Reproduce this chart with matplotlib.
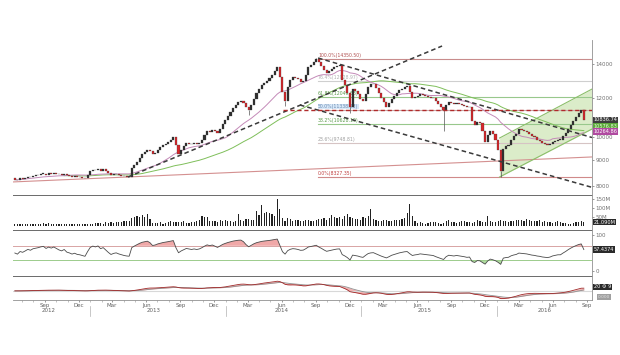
import pandas as pd
import numpy as np
import matplotlib.pyplot as plt
import matplotlib.dates as mdates
import matplotlib.transforms as mtrans

# Weekly closes, Jun 2012 - Sep 2016
closes = [
    8240, 8210, 8280, 8260, 8300, 8350, 8330, 8380, 8400, 8420,
    8450, 8470, 8430, 8480, 8460, 8500, 8470, 8440, 8420, 8460,
    8400, 8380, 8350, 8370, 8340, 8330, 8310, 8290, 8400, 8550,
    8620, 8600, 8650, 8580, 8630, 8560, 8480, 8400, 8440, 8460,
    8420, 8390, 8360, 8340, 8330, 8700, 8820, 8950, 9100, 9250,
    9350, 9440, 9380, 9260, 9320, 9450, 9550, 9650, 9720, 9800,
    9900, 10010, 9650, 9260, 9450, 9600, 9760, 9720, 9680, 9740,
    9700, 9760, 9900, 10100, 10300, 10250, 10350, 10280, 10200, 10400,
    10650, 10850, 11050, 11230, 11450, 11600, 11750, 11800, 11700, 11500,
    11340, 11600, 11950, 12250, 12480, 12700, 12850, 12950, 13100, 13300,
    13550, 13800, 13200, 12300, 11800, 12600, 13000, 13200, 13150, 13050,
    12900, 12950, 13300, 13800, 13950, 14150, 14350, 14100, 13900, 13650,
    13420, 13550, 13700, 13800, 13900, 13930, 13000, 12700, 12270, 11500,
    12480, 12350, 12200, 11950, 11800, 12200, 12600, 12750, 12800, 12550,
    12270, 12000, 11750, 11500, 11700, 11950, 12100, 12270, 12400, 12500,
    12600, 12640, 12300, 11960, 12050, 12100, 12200, 12150, 12100, 12050,
    12000, 11960, 11800, 11650, 11500, 11340, 11600, 11750, 11700, 11650,
    11700, 11650, 11600, 11550, 11480, 11500, 10800, 10600, 10750, 10700,
    10300, 9800, 10100, 10300, 10150, 9900, 9440, 8580, 9500, 9600,
    9650, 9900, 10050, 10150, 10400, 10350, 10300, 10250, 10150, 10050,
    10000, 9900, 9850, 9750, 9700, 9650, 9700, 9800, 9850, 9900,
    9900, 10050, 10200, 10400, 10600, 10800, 11000, 11200, 11340, 10836,
]

# Weekly volume in millions
volumes = [
    10, 12, 11, 9, 13, 12, 10, 14, 11, 12,
    13, 15, 14, 16, 12, 13, 11, 12, 10, 11,
    9, 10, 9, 10, 11, 12, 10, 11, 13, 12,
    14, 16, 15, 18, 14, 20, 16, 22, 18, 20,
    24, 22, 26, 30, 28, 45, 50, 55, 48, 60,
    52, 68, 38, 18, 16, 15, 20, 14, 17, 24,
    26, 22, 20, 24, 22, 26, 18, 16, 20, 22,
    28, 35, 55, 50, 48, 30, 26, 28, 22, 32,
    30, 34, 26, 28, 25, 30, 65, 35, 30, 38,
    40, 35, 36, 85, 60, 115, 70, 80, 75, 65,
    55, 150, 95, 45, 30, 42, 38, 28, 32, 35,
    28, 30, 32, 34, 30, 26, 36, 38, 40, 42,
    35, 45, 62, 48, 44, 52, 40, 55, 66, 50,
    45, 40, 38, 36, 48, 42, 55, 96, 40, 32,
    28, 30, 34, 32, 30, 28, 35, 33, 36, 38,
    45, 75, 120, 55, 30, 18, 20, 16, 14, 18,
    20, 22, 24, 18, 14, 16, 28, 34, 24, 20,
    18, 22, 30, 26, 20, 24, 18, 22, 36, 28,
    20, 24, 54, 30, 24, 22, 26, 34, 28, 26,
    24, 30, 28, 32, 36, 34, 30, 38, 32, 28,
    26, 30, 34, 24, 28, 22, 20, 18, 24, 26,
    22, 18, 16, 14, 12, 18, 24, 20, 30, 21,
]

# notable long wicks (week index -> price)
wick_lows = {90: 11100, 104: 11550, 129: 11200, 165: 10300, 187: 8327}
wick_highs = {116: 14400, 125: 14000}

# Fibonacci retracement levels
fib_labels = ["100.0%(14350.50)", "76.4%(12928.97)", "61.8%(12049.68)",
              "50.0%(11338.93)", "38.2%(10628.19)", "23.6%(9748.81)", "0.0%(8327.35)"]
fib_levels = [14350.50, 12928.97, 12049.68, 11338.93, 10628.19, 9748.81, 8327.35]
fib_colors = ["#c88c8c", "#cfcfcf", "#98c88c", "#c9a8a8", "#98c88c", "#d6c4c4", "#d08a8a"]
fib_text = ["#b05050", "#b0b0b0", "#5a9a4a", "#6a8ab0", "#5a9a4a", "#a0a0a0", "#c04040"]

dates = pd.date_range("2012-06-12", periods=len(closes), freq="7D")
df = pd.DataFrame({"close": closes, "vol": volumes}, index=dates)
df["open"] = df["close"].shift(1).fillna(8300)
df["ma20"] = df["close"].rolling(20, min_periods=1).mean()
df["ma50"] = df["close"].rolling(50, min_periods=20).mean()

# RSI 14 (Wilder), seeded neutral so the first weeks don't swing to the extremes
delta = df["close"].diff()
seed = delta.abs().iloc[1:15].mean() / 2
up_move = delta.clip(lower=0).fillna(seed)
down_move = (-delta.clip(upper=0)).fillna(seed)
gain = up_move.ewm(alpha=1 / 14, adjust=False).mean()
loss = down_move.ewm(alpha=1 / 14, adjust=False).mean()
df["rsi"] = 100 - 100 / (1 + gain / loss)

# MACD
ema12 = df["close"].ewm(span=12, adjust=False).mean()
ema26 = df["close"].ewm(span=26, adjust=False).mean()
df["macd"] = ema12 - ema26
df["signal"] = df["macd"].ewm(span=9, adjust=False).mean()

W, H = 620, 355
fig = plt.figure(figsize=(6.2, 3.55), dpi=100)
fig.patch.set_facecolor("white")


def frame(top, bottom):
    return [13 / W, (H - bottom) / H, 579 / W, (bottom - top) / H]


ax = fig.add_axes(frame(40, 195))
axv = fig.add_axes(frame(195, 230), sharex=ax)
axr = fig.add_axes(frame(230, 276), sharex=ax)
axm = fig.add_axes(frame(276, 300), sharex=ax)

x0, x1 = pd.Timestamp("2012-06-07"), pd.Timestamp("2016-09-14")
fs = 4

for a in (ax, axv, axr, axm):
    for s in ("left", "top", "bottom"):
        a.spines[s].set_visible(False)
    a.spines["right"].set_color("#909090")
    a.spines["right"].set_linewidth(0.6)
    a.yaxis.tick_right()
    a.tick_params(axis="y", labelsize=fs, colors="#707070", length=1.5, width=0.5, pad=1)
    a.tick_params(axis="x", bottom=False, labelbottom=False)

# ---------- price panel ----------
ax.set_yscale("log")
ax.set_ylim(7676, 15630)
ax.set_xlim(x0, x1)
ax.set_yticks([8000, 9000, 10000, 12000, 14000])
ax.set_yticklabels(["8000", "9000", "10000", "12000", "14000"])
ax.yaxis.set_minor_locator(plt.NullLocator())

# fib lines
fib_start = pd.Timestamp("2014-09-07")
for lab, lev, c, tc in zip(fib_labels, fib_levels, fib_colors, fib_text):
    ax.plot([fib_start, x1], [lev, lev], color=c, lw=0.8, zorder=1)
    bb = dict(boxstyle="square,pad=0.05", fc="#d8e8f8", ec="none") if lev == 11338.93 else None
    ax.text(fib_start, lev * 1.004, lab, fontsize=3.3, color=tc, va="bottom", ha="left", bbox=bb, zorder=2)

# long-term trend line
ax.plot([x0, x1], [8150, 9140], color="#d49090", lw=0.8, zorder=1)

# green rising channel
ch_x = [pd.Timestamp("2016-01-09"), x1]
ax.fill_between(ch_x, [8337, 10390], [9970, 12480], color="#cfe6b8", alpha=0.75, lw=0, zorder=0)
ax.plot(ch_x, [8337, 10390], color="#8cbf6a", lw=0.8, zorder=1)
ax.plot(ch_x, [9970, 12480], color="#8cbf6a", lw=0.8, zorder=1)

# moving averages
ax.plot(df.index, df["ma50"], color="#7fbf5a", lw=0.7, zorder=2)
ax.plot(df.index, df["ma20"], color="#c48ab8", lw=0.7, zorder=2)

# candles
up = df["close"] >= df["open"]
body_lo = df[["open", "close"]].min(axis=1)
body_hi = df[["open", "close"]].max(axis=1)
for k, v in wick_lows.items():
    ax.vlines(df.index[k], v, body_lo.iloc[k], color="#555555", lw=0.5, zorder=3)
for k, v in wick_highs.items():
    ax.vlines(df.index[k], body_hi.iloc[k], v, color="#555555", lw=0.5, zorder=3)
ax.bar(df.index, (body_hi - body_lo).clip(lower=25), bottom=body_lo, width=5.6,
       color=np.where(up, "#2e2e2e", "#d8262a"), edgecolor="#3a3a3a", lw=0.2, zorder=4)

# dashed trend lines
dash = dict(color="#3a3a3a", lw=1.1, ls=(0, (3, 2)), zorder=5)
ax.plot([pd.Timestamp("2013-04-13"), pd.Timestamp("2015-08-07")], [8337, 15205], **dash)
ax.plot([pd.Timestamp("2014-09-07"), x1], [14390, 9993], **dash)
ax.plot([pd.Timestamp("2014-07-20"), x1], [11600, 7950], **dash)
ax.plot([pd.Timestamp("2014-06-04"), x1], [11339, 11339], color="#b02a2a", lw=1.0,
        ls=(0, (3, 2)), zorder=5)

# right side value boxes
tr = mtrans.blended_transform_factory(ax.transAxes, ax.transData)
ax.text(1.003, 10836.74, "10836.74", transform=tr, fontsize=3.6, color="white", va="center",
        bbox=dict(boxstyle="square,pad=0.15", fc="#3c3c3c", ec="none"), clip_on=False)
ax.text(1.003, 10530, "10576.83", transform=tr, fontsize=3.6, color="#e8f8d8", va="center",
        bbox=dict(boxstyle="square,pad=0.15", fc="#5aa83a", ec="none"), clip_on=False)
ax.text(1.003, 10264.86, "10264.86", transform=tr, fontsize=3.6, color="white", va="center",
        bbox=dict(boxstyle="square,pad=0.15", fc="#b04aa0", ec="none"), clip_on=False)

# ---------- volume panel ----------
axv.set_ylim(-22, 172)
axv.axhline(172, color="#6a6a6a", lw=1.4)
axv.bar(df.index, df["vol"], width=3.2, color="#222222", lw=0)
axv.set_yticks([50, 100, 150])
axv.set_yticklabels(["50M", "100M", "150M"])
trv = mtrans.blended_transform_factory(axv.transAxes, axv.transData)
axv.text(1.003, 21.09, "21.090M", transform=trv, fontsize=3.6, color="white", va="center",
         bbox=dict(boxstyle="square,pad=0.15", fc="#2a2a2a", ec="none"), clip_on=False)

# ---------- RSI panel ----------
axr.set_ylim(-14, 114)
axr.axhline(114, color="#6a6a6a", lw=1.4)
axr.axhline(70, color="#d8a4a4", lw=0.7)
axr.axhline(30, color="#9ccc8c", lw=0.7)
rsi = df["rsi"]
axr.fill_between(rsi.index, 70, rsi, where=rsi > 70, interpolate=True, color="#f0a8a8", lw=0)
axr.fill_between(rsi.index, 30, rsi, where=rsi < 30, interpolate=True, color="#b0dca0", lw=0)
axr.plot(rsi.index, rsi, color="#4a4a4a", lw=0.6)
axr.set_yticks([0, 100])
axr.set_yticklabels(["0", "100"])
trr = mtrans.blended_transform_factory(axr.transAxes, axr.transData)
axr.text(1.003, rsi.iloc[-1], "57.4374", transform=trr, fontsize=3.6, color="white",
         va="center", bbox=dict(boxstyle="square,pad=0.15", fc="#2a2a2a", ec="none"), clip_on=False)

# ---------- MACD panel ----------
lo = min(df["macd"].min(), df["signal"].min())
hi = max(df["macd"].max(), df["signal"].max())
rng = hi - lo
axm.set_ylim(lo - 0.08 * rng, hi + 0.3 * rng)
axm.axhline(hi + 0.3 * rng, color="#6a6a6a", lw=1.4)
axm.axhline(0, color="#d8d8d8", lw=0.8)
axm.fill_between(df.index, df["macd"], df["signal"], color="#e88080", alpha=0.6, lw=0)
axm.plot(df.index, df["signal"], color="#909090", lw=0.6)
axm.plot(df.index, df["macd"], color="#a02828", lw=0.6)
axm.set_yticks([])
axm.spines["bottom"].set_visible(True)
axm.spines["bottom"].set_color("#909090")
axm.spines["bottom"].set_linewidth(0.6)
trm = mtrans.blended_transform_factory(axm.transAxes, axm.transAxes)
axm.text(1.003, 0.55, "20 \u2699 9", transform=trm, fontsize=3.6, color="white", va="center",
         bbox=dict(boxstyle="square,pad=0.15", fc="#2a2a2a", ec="none"), clip_on=False)
axm.text(1.01, 0.12, "0.000", transform=trm, fontsize=3.2, color="#e0e0e0", va="center",
         bbox=dict(boxstyle="square,pad=0.15", fc="#a0a0a0", ec="none"), clip_on=False)

# x axis: months + years
axm.tick_params(axis="x", bottom=True, labelbottom=True, labelsize=fs, colors="#707070",
                length=1.5, width=0.5, pad=1)
axm.xaxis.set_major_locator(mdates.MonthLocator(bymonth=[3, 6, 9, 12]))
axm.xaxis.set_major_formatter(mdates.DateFormatter("%b"))
axm.xaxis.set_minor_locator(mdates.MonthLocator())
axm.tick_params(axis="x", which="minor", length=1.2, width=0.4, colors="#909090")
for lbl in axm.get_xticklabels():
    lbl.set_color("#606060")

trx = mtrans.blended_transform_factory(axm.transData, fig.transFigure)
year_pos = {"2012": "2012-09-10", "2013": "2013-06-20", "2014": "2014-06-01",
            "2015": "2015-06-20", "2016": "2016-05-10"}
for yr, d in year_pos.items():
    fig.text(mdates.date2num(pd.Timestamp(d)), (H - 311) / H, yr, transform=trx,
             fontsize=fs, color="#606060", ha="center", va="center")
for yr in ["2013-01-01", "2014-01-01", "2015-01-01", "2016-01-01"]:
    xd = mdates.date2num(pd.Timestamp(yr))
    fig.add_artist(plt.Line2D([xd, xd], [(H - 306) / H, (H - 316) / H], transform=trx,
                              color="#b0b0b0", lw=0.5))

fig.savefig("out.png", dpi=100)
plt.close(fig)
